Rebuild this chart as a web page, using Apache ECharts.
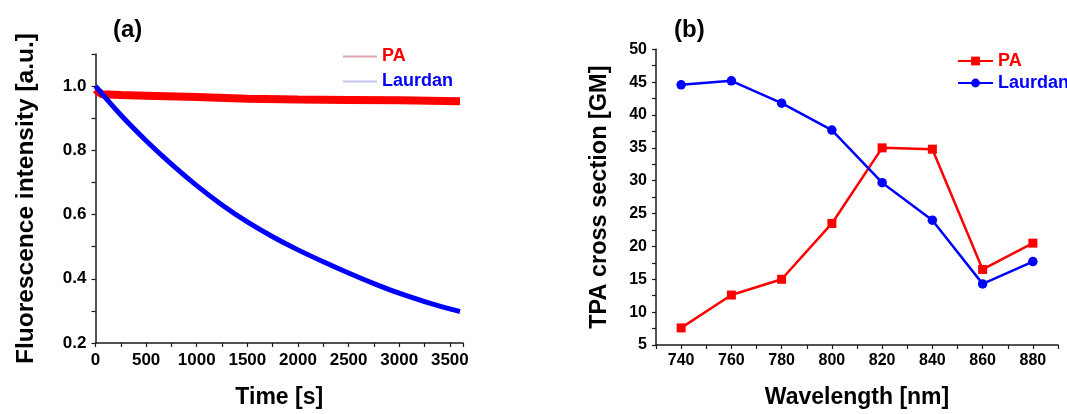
<!DOCTYPE html>
<html>
<head>
<meta charset="utf-8">
<script src="https://cdn.jsdelivr.net/npm/echarts@6/dist/echarts.min.js"></script>
<style>
html,body{margin:0;padding:0;background:#fff;}
#c{width:1067px;height:414px;}
</style>
</head>
<body>
<div id="c"></div>
<script>
// Panel (a): photobleaching time traces
const laurdanTime = [0, 250, 500, 750, 1000, 1250, 1500, 1750, 2000, 2250, 2500, 2750, 3000, 3250, 3500, 3600];
const laurdanA    = [1.000, 0.910, 0.830, 0.757, 0.690, 0.630, 0.577, 0.531, 0.490, 0.453, 0.418, 0.385, 0.355, 0.329, 0.306, 0.298];
const paTime = [0, 60, 250, 500, 1000, 1500, 2000, 2500, 3000, 3600];
const paA    = [0.990, 0.975, 0.972, 0.970, 0.966, 0.961, 0.958, 0.957, 0.956, 0.953];

// Panel (b): TPA cross sections
const wavelengths = [740, 760, 780, 800, 820, 840, 860, 880];
const paB      = [7.6, 12.6, 15.0, 23.5, 35.0, 34.8, 16.5, 20.5];
const laurdanB = [44.6, 45.2, 41.8, 37.7, 29.7, 24.0, 14.3, 17.7];

const FONT = "'Liberation Sans', Arial, sans-serif";
const RED = '#ff0000', BLUE = '#0000ff', AX = '#1a1a1a';

function zip(xs, ys){ return xs.map((x,i)=>[x, ys[i]]); }

function axisBase(){
  return {
    axisLine:{show:true, lineStyle:{color:AX, width:1.5}},
    axisTick:{show:true, inside:false, length:4, lineStyle:{color:AX, width:1.2}},
    splitLine:{show:false},
    axisLabel:{color:'#000', fontFamily:FONT, fontWeight:'bold', fontSize:16},
    nameTextStyle:{color:'#000', fontFamily:FONT, fontWeight:'bold', fontSize:23},
    nameLocation:'middle'
  };
}

const option = {
  animation:false,
  backgroundColor:'#fff',
  textStyle:{fontFamily:FONT},
  title:[
    {text:'(a)', left:108, top:13, textStyle:{fontFamily:FONT, fontWeight:'bold', fontSize:24, color:'#000'}},
    {text:'(b)', left:669, top:13, textStyle:{fontFamily:FONT, fontWeight:'bold', fontSize:24, color:'#000'}}
  ],
  grid:[
    {left:95.5, top:54, width:367.5, height:296},
    {left:656, top:49.3, width:402, height:297.4}
  ],
  legend:[
    {
      left:343, top:47.5, padding:0, orient:'vertical', itemWidth:34, itemHeight:2, itemGap:7,
      selectedMode:false,
      textStyle:{fontFamily:FONT, fontWeight:'bold', fontSize:18, lineHeight:17},
      data:[
        {name:'PA', icon:'rect', itemStyle:{color:'#dca6ae'}, textStyle:{color:RED}},
        {name:'Laurdan', icon:'rect', itemStyle:{color:'#c4c4f2'}, textStyle:{color:BLUE}}
      ]
    },
    {
      left:957, top:52, padding:0, orient:'vertical', itemWidth:35, itemHeight:11, itemGap:4,
      selectedMode:false,
      textStyle:{fontFamily:FONT, fontWeight:'bold', fontSize:18, lineHeight:17},
      data:[
        {name:'PA', textStyle:{color:RED}},
        {name:'Laurdan', textStyle:{color:BLUE}}
      ]
    }
  ],
  xAxis:[
    Object.assign(axisBase(), {
      type:'value', gridIndex:0, min:0, max:3630, interval:250,
      name:'Time [s]', nameGap:43,
      axisLabel:Object.assign(axisBase().axisLabel, {margin:9, fontSize:17,
        formatter:v => (Math.round(v) % 500 === 0 ? String(Math.round(v)) : '')})
    }),
    Object.assign(axisBase(), {
      type:'value', gridIndex:1, min:730, max:890, interval:10,
      name:'Wavelength [nm]', nameGap:41,
      axisLabel:Object.assign(axisBase().axisLabel, {margin:8,
        formatter:v => ((Math.round(v) - 740) % 20 === 0 ? String(Math.round(v)) : '')})
    })
  ],
  yAxis:[
    Object.assign(axisBase(), {
      type:'value', gridIndex:0, min:0.2, max:1.1, interval:0.1,
      name:'Fluorescence intensity [a.u.]', nameGap:57,
      nameTextStyle:Object.assign(axisBase().nameTextStyle, {fontSize:24.5}),
      axisLabel:Object.assign(axisBase().axisLabel, {margin:9, fontSize:17,
        formatter:v => { const k = Math.round(v*10); return (k % 2 === 0 && k <= 10) ? (k/10).toFixed(1) : ''; }})
    }),
    Object.assign(axisBase(), {
      type:'value', gridIndex:1, min:5, max:50, interval:2.5,
      name:'TPA cross section [GM]', nameGap:44,
      nameTextStyle:Object.assign(axisBase().nameTextStyle, {fontSize:23.5}),
      axisLabel:Object.assign(axisBase().axisLabel, {margin:9,
        formatter:v => (Math.abs(v/5 - Math.round(v/5)) < 1e-6 ? String(Math.round(v)) : '')})
    })
  ],
  series:[
    {
      name:'PA', type:'line', xAxisIndex:1, yAxisIndex:1,
      data:zip(wavelengths, paB),
      symbol:'rect', symbolSize:9,
      lineStyle:{color:RED, width:2.5}, itemStyle:{color:RED}
    },
    {
      name:'Laurdan', type:'line', xAxisIndex:1, yAxisIndex:1,
      data:zip(wavelengths, laurdanB),
      symbol:'circle', symbolSize:9.5,
      lineStyle:{color:BLUE, width:2.5}, itemStyle:{color:BLUE}
    },
    {
      name:'PA', type:'line', xAxisIndex:0, yAxisIndex:0,
      data:zip(paTime, paA), showSymbol:false, symbol:'none',
      lineStyle:{color:RED, width:8}, itemStyle:{color:RED}
    },
    {
      name:'Laurdan', type:'line', xAxisIndex:0, yAxisIndex:0,
      data:zip(laurdanTime, laurdanA), showSymbol:false, symbol:'none', smooth:0.3,
      lineStyle:{color:BLUE, width:5}, itemStyle:{color:BLUE}
    }
  ]
};

const chart = echarts.init(document.getElementById('c'), null, {renderer:'canvas'});
chart.setOption(option);
</script>
</body>
</html>
